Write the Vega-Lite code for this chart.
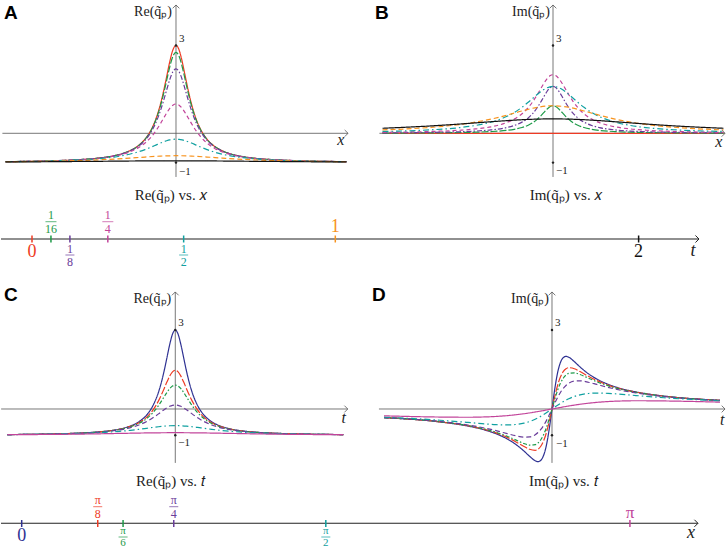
{
  "$schema": "https://vega.github.io/schema/vega-lite/v6.json",
  "padding": 0,
  "spacing": 0,
  "resolve": {"scale": {"color": "independent", "strokeDash": "independent"}},
  "config": {"view": {"stroke": null}, "concat": {"spacing": 0}},
  "datasets": {
    "one": [{"k": 1}],
    "ab": [
      {"s":"0","x":-5.5,"re":-0.967,"im":0},{"s":"0","x":-4,"re":-0.938,"im":0},{"s":"0","x":-3,"re":-0.892,"im":0},{"s":"0","x":-2.5,"re":-0.846,"im":0},
      {"s":"0","x":-2,"re":-0.765,"im":0},{"s":"0","x":-1.5,"re":-0.6,"im":0},{"s":"0","x":-1.25,"re":-0.448,"im":0},{"s":"0","x":-1,"re":-0.2,"im":0},
      {"s":"0","x":-0.8,"re":0.124,"im":0},{"s":"0","x":-0.65,"re":0.487,"im":0},{"s":"0","x":-0.5,"re":1,"im":0},{"s":"0","x":-0.4,"re":1.439,"im":0},
      {"s":"0","x":-0.3,"re":1.941,"im":0},{"s":"0","x":-0.2,"re":2.448,"im":0},{"s":"0","x":-0.1,"re":2.846,"im":0},{"s":"0","x":0,"re":3,"im":0},
      {"s":"0","x":0.1,"re":2.846,"im":0},{"s":"0","x":0.2,"re":2.448,"im":0},{"s":"0","x":0.3,"re":1.941,"im":0},{"s":"0","x":0.4,"re":1.439,"im":0},
      {"s":"0","x":0.5,"re":1,"im":0},{"s":"0","x":0.65,"re":0.487,"im":0},{"s":"0","x":0.8,"re":0.124,"im":0},{"s":"0","x":1,"re":-0.2,"im":0},
      {"s":"0","x":1.25,"re":-0.448,"im":0},{"s":"0","x":1.5,"re":-0.6,"im":0},{"s":"0","x":2,"re":-0.765,"im":0},{"s":"0","x":2.5,"re":-0.846,"im":0},
      {"s":"0","x":3,"re":-0.892,"im":0},{"s":"0","x":4,"re":-0.938,"im":0},{"s":"0","x":5.5,"re":-0.967,"im":0},

      {"s":"1/16","x":-5.5,"re":-0.967,"im":0.008},{"s":"1/16","x":-4,"re":-0.939,"im":0.015},{"s":"1/16","x":-3,"re":-0.892,"im":0.027},{"s":"1/16","x":-2.5,"re":-0.847,"im":0.038},
      {"s":"1/16","x":-2,"re":-0.766,"im":0.059},{"s":"1/16","x":-1.5,"re":-0.602,"im":0.099},{"s":"1/16","x":-1.25,"re":-0.453,"im":0.137},{"s":"1/16","x":-1,"re":-0.21,"im":0.198},
      {"s":"1/16","x":-0.8,"re":0.104,"im":0.276},{"s":"1/16","x":-0.65,"re":0.453,"im":0.363},{"s":"1/16","x":-0.5,"re":0.939,"im":0.485},{"s":"1/16","x":-0.4,"re":1.349,"im":0.587},
      {"s":"1/16","x":-0.3,"re":1.812,"im":0.703},{"s":"1/16","x":-0.2,"re":2.272,"im":0.818},{"s":"1/16","x":-0.1,"re":2.628,"im":0.907},{"s":"1/16","x":0,"re":2.765,"im":0.941},
      {"s":"1/16","x":0.1,"re":2.628,"im":0.907},{"s":"1/16","x":0.2,"re":2.272,"im":0.818},{"s":"1/16","x":0.3,"re":1.812,"im":0.703},{"s":"1/16","x":0.4,"re":1.349,"im":0.587},
      {"s":"1/16","x":0.5,"re":0.939,"im":0.485},{"s":"1/16","x":0.65,"re":0.453,"im":0.363},{"s":"1/16","x":0.8,"re":0.104,"im":0.276},{"s":"1/16","x":1,"re":-0.21,"im":0.198},
      {"s":"1/16","x":1.25,"re":-0.453,"im":0.137},{"s":"1/16","x":1.5,"re":-0.602,"im":0.099},{"s":"1/16","x":2,"re":-0.766,"im":0.059},{"s":"1/16","x":2.5,"re":-0.847,"im":0.038},
      {"s":"1/16","x":3,"re":-0.892,"im":0.027},{"s":"1/16","x":4,"re":-0.939,"im":0.015},{"s":"1/16","x":5.5,"re":-0.967,"im":0.008},

      {"s":"1/8","x":-5.5,"re":-0.967,"im":0.016},{"s":"1/8","x":-4,"re":-0.939,"im":0.031},{"s":"1/8","x":-3,"re":-0.893,"im":0.054},{"s":"1/8","x":-2.5,"re":-0.848,"im":0.076},
      {"s":"1/8","x":-2,"re":-0.768,"im":0.116},{"s":"1/8","x":-1.5,"re":-0.61,"im":0.195},{"s":"1/8","x":-1.25,"re":-0.467,"im":0.267},{"s":"1/8","x":-1,"re":-0.238,"im":0.381},
      {"s":"1/8","x":-0.8,"re":0.05,"im":0.525},{"s":"1/8","x":-0.65,"re":0.361,"im":0.68},{"s":"1/8","x":-0.5,"re":0.778,"im":0.889},{"s":"1/8","x":-0.4,"re":1.116,"im":1.058},
      {"s":"1/8","x":-0.3,"re":1.484,"im":1.242},{"s":"1/8","x":-0.2,"re":1.837,"im":1.418},{"s":"1/8","x":-0.1,"re":2.101,"im":1.55},{"s":"1/8","x":0,"re":2.2,"im":1.6},
      {"s":"1/8","x":0.1,"re":2.101,"im":1.55},{"s":"1/8","x":0.2,"re":1.837,"im":1.418},{"s":"1/8","x":0.3,"re":1.484,"im":1.242},{"s":"1/8","x":0.4,"re":1.116,"im":1.058},
      {"s":"1/8","x":0.5,"re":0.778,"im":0.889},{"s":"1/8","x":0.65,"re":0.361,"im":0.68},{"s":"1/8","x":0.8,"re":0.05,"im":0.525},{"s":"1/8","x":1,"re":-0.238,"im":0.381},
      {"s":"1/8","x":1.25,"re":-0.467,"im":0.267},{"s":"1/8","x":1.5,"re":-0.61,"im":0.195},{"s":"1/8","x":2,"re":-0.768,"im":0.116},{"s":"1/8","x":2.5,"re":-0.848,"im":0.076},
      {"s":"1/8","x":3,"re":-0.893,"im":0.054},{"s":"1/8","x":4,"re":-0.939,"im":0.031},{"s":"1/8","x":5.5,"re":-0.967,"im":0.016},

      {"s":"1/4","x":-5.5,"re":-0.967,"im":0.033},{"s":"1/4","x":-4,"re":-0.939,"im":0.061},{"s":"1/4","x":-3,"re":-0.895,"im":0.105},{"s":"1/4","x":-2.5,"re":-0.852,"im":0.148},
      {"s":"1/4","x":-2,"re":-0.778,"im":0.222},{"s":"1/4","x":-1.5,"re":-0.636,"im":0.364},{"s":"1/4","x":-1.25,"re":-0.515,"im":0.485},{"s":"1/4","x":-1,"re":-0.333,"im":0.667},
      {"s":"1/4","x":-0.8,"re":-0.123,"im":0.877},{"s":"1/4","x":-0.65,"re":0.084,"im":1.084},{"s":"1/4","x":-0.5,"re":0.333,"im":1.333},{"s":"1/4","x":-0.4,"re":0.515,"im":1.515},
      {"s":"1/4","x":-0.3,"re":0.695,"im":1.695},{"s":"1/4","x":-0.2,"re":0.852,"im":1.852},{"s":"1/4","x":-0.1,"re":0.961,"im":1.961},{"s":"1/4","x":0,"re":1,"im":2},
      {"s":"1/4","x":0.1,"re":0.961,"im":1.961},{"s":"1/4","x":0.2,"re":0.852,"im":1.852},{"s":"1/4","x":0.3,"re":0.695,"im":1.695},{"s":"1/4","x":0.4,"re":0.515,"im":1.515},
      {"s":"1/4","x":0.5,"re":0.333,"im":1.333},{"s":"1/4","x":0.65,"re":0.084,"im":1.084},{"s":"1/4","x":0.8,"re":-0.123,"im":0.877},{"s":"1/4","x":1,"re":-0.333,"im":0.667},
      {"s":"1/4","x":1.25,"re":-0.515,"im":0.485},{"s":"1/4","x":1.5,"re":-0.636,"im":0.364},{"s":"1/4","x":2,"re":-0.778,"im":0.222},{"s":"1/4","x":2.5,"re":-0.852,"im":0.148},
      {"s":"1/4","x":3,"re":-0.895,"im":0.105},{"s":"1/4","x":4,"re":-0.939,"im":0.061},{"s":"1/4","x":5.5,"re":-0.967,"im":0.033},

      {"s":"1/2","x":-5.5,"re":-0.968,"im":0.063},{"s":"1/2","x":-4,"re":-0.942,"im":0.116},{"s":"1/2","x":-3,"re":-0.902,"im":0.195},{"s":"1/2","x":-2.5,"re":-0.867,"im":0.267},
      {"s":"1/2","x":-2,"re":-0.81,"im":0.381},{"s":"1/2","x":-1.5,"re":-0.714,"im":0.571},{"s":"1/2","x":-1.25,"re":-0.644,"im":0.711},{"s":"1/2","x":-1,"re":-0.556,"im":0.889},
      {"s":"1/2","x":-0.8,"re":-0.471,"im":1.058},{"s":"1/2","x":-0.65,"re":-0.402,"im":1.196},{"s":"1/2","x":-0.5,"re":-0.333,"im":1.333},{"s":"1/2","x":-0.4,"re":-0.291,"im":1.418},
      {"s":"1/2","x":-0.3,"re":-0.254,"im":1.493},{"s":"1/2","x":-0.2,"re":-0.225,"im":1.55},{"s":"1/2","x":-0.1,"re":-0.206,"im":1.587},{"s":"1/2","x":0,"re":-0.2,"im":1.6},
      {"s":"1/2","x":0.1,"re":-0.206,"im":1.587},{"s":"1/2","x":0.2,"re":-0.225,"im":1.55},{"s":"1/2","x":0.3,"re":-0.254,"im":1.493},{"s":"1/2","x":0.4,"re":-0.291,"im":1.418},
      {"s":"1/2","x":0.5,"re":-0.333,"im":1.333},{"s":"1/2","x":0.65,"re":-0.402,"im":1.196},{"s":"1/2","x":0.8,"re":-0.471,"im":1.058},{"s":"1/2","x":1,"re":-0.556,"im":0.889},
      {"s":"1/2","x":1.25,"re":-0.644,"im":0.711},{"s":"1/2","x":1.5,"re":-0.714,"im":0.571},{"s":"1/2","x":2,"re":-0.81,"im":0.381},{"s":"1/2","x":2.5,"re":-0.867,"im":0.267},
      {"s":"1/2","x":3,"re":-0.902,"im":0.195},{"s":"1/2","x":4,"re":-0.942,"im":0.116},{"s":"1/2","x":5.5,"re":-0.968,"im":0.063},

      {"s":"1","x":-5.5,"re":-0.971,"im":0.116},{"s":"1","x":-4,"re":-0.951,"im":0.198},{"s":"1","x":-3,"re":-0.925,"im":0.302},{"s":"1","x":-2.5,"re":-0.905,"im":0.381},
      {"s":"1","x":-2,"re":-0.879,"im":0.485},{"s":"1","x":-1.5,"re":-0.846,"im":0.615},{"s":"1","x":-1,"re":-0.81,"im":0.762},{"s":"1","x":-0.5,"re":-0.778,"im":0.889},
      {"s":"1","x":0,"re":-0.765,"im":0.941},
      {"s":"1","x":0.5,"re":-0.778,"im":0.889},{"s":"1","x":1,"re":-0.81,"im":0.762},{"s":"1","x":1.5,"re":-0.846,"im":0.615},{"s":"1","x":2,"re":-0.879,"im":0.485},
      {"s":"1","x":2.5,"re":-0.905,"im":0.381},{"s":"1","x":3,"re":-0.925,"im":0.302},{"s":"1","x":4,"re":-0.951,"im":0.198},{"s":"1","x":5.5,"re":-0.971,"im":0.116},

      {"s":"2","x":-5.5,"re":-0.978,"im":0.172},{"s":"2","x":-4,"re":-0.969,"im":0.248},{"s":"2","x":-3,"re":-0.96,"im":0.317},{"s":"2","x":-2.5,"re":-0.956,"im":0.356},
      {"s":"2","x":-2,"re":-0.951,"im":0.395},{"s":"2","x":-1.5,"re":-0.946,"im":0.432},{"s":"2","x":-1,"re":-0.942,"im":0.464},{"s":"2","x":-0.5,"re":-0.939,"im":0.485},
      {"s":"2","x":0,"re":-0.938,"im":0.492},
      {"s":"2","x":0.5,"re":-0.939,"im":0.485},{"s":"2","x":1,"re":-0.942,"im":0.464},{"s":"2","x":1.5,"re":-0.946,"im":0.432},{"s":"2","x":2,"re":-0.951,"im":0.395},
      {"s":"2","x":2.5,"re":-0.956,"im":0.356},{"s":"2","x":3,"re":-0.96,"im":0.317},{"s":"2","x":4,"re":-0.969,"im":0.248},{"s":"2","x":5.5,"re":-0.978,"im":0.172}
    ],
    "cd": [
      {"s":"0","t":-3,"re":-0.972,"im":-0.331},{"s":"0","t":-2,"re":-0.938,"im":-0.492},{"s":"0","t":-1.5,"re":-0.892,"im":-0.649},{"s":"0","t":-1.25,"re":-0.846,"im":-0.769},
      {"s":"0","t":-1,"re":-0.765,"im":-0.941},{"s":"0","t":-0.8,"re":-0.644,"im":-1.139},{"s":"0","t":-0.65,"re":-0.485,"im":-1.34},{"s":"0","t":-0.5,"re":-0.2,"im":-1.6},
      {"s":"0","t":-0.4,"re":0.124,"im":-1.798},{"s":"0","t":-0.3,"re":0.639,"im":-1.967},{"s":"0","t":-0.25,"re":1,"im":-2},{"s":"0","t":-0.2,"re":1.439,"im":-1.951},
      {"s":"0","t":-0.15,"re":1.941,"im":-1.765},{"s":"0","t":-0.1,"re":2.448,"im":-1.379},{"s":"0","t":-0.05,"re":2.846,"im":-0.769},{"s":"0","t":0,"re":3,"im":0},
      {"s":"0","t":0.05,"re":2.846,"im":0.769},{"s":"0","t":0.1,"re":2.448,"im":1.379},{"s":"0","t":0.15,"re":1.941,"im":1.765},{"s":"0","t":0.2,"re":1.439,"im":1.951},
      {"s":"0","t":0.25,"re":1,"im":2},{"s":"0","t":0.3,"re":0.639,"im":1.967},{"s":"0","t":0.4,"re":0.124,"im":1.798},{"s":"0","t":0.5,"re":-0.2,"im":1.6},
      {"s":"0","t":0.65,"re":-0.485,"im":1.34},{"s":"0","t":0.8,"re":-0.644,"im":1.139},{"s":"0","t":1,"re":-0.765,"im":0.941},{"s":"0","t":1.25,"re":-0.846,"im":0.769},
      {"s":"0","t":1.5,"re":-0.892,"im":0.649},{"s":"0","t":2,"re":-0.938,"im":0.492},{"s":"0","t":3,"re":-0.972,"im":0.331},

      {"s":"π/8","t":-3,"re":-0.973,"im":-0.33},{"s":"π/8","t":-2,"re":-0.939,"im":-0.488},{"s":"π/8","t":-1.5,"re":-0.894,"im":-0.638},{"s":"π/8","t":-1.25,"re":-0.85,"im":-0.751},
      {"s":"π/8","t":-1,"re":-0.773,"im":-0.908},{"s":"π/8","t":-0.8,"re":-0.663,"im":-1.08},{"s":"π/8","t":-0.65,"re":-0.522,"im":-1.242},{"s":"π/8","t":-0.5,"re":-0.288,"im":-1.424},
      {"s":"π/8","t":-0.4,"re":-0.042,"im":-1.532},{"s":"π/8","t":-0.3,"re":0.309,"im":-1.57},{"s":"π/8","t":-0.25,"re":0.529,"im":-1.529},{"s":"π/8","t":-0.2,"re":0.772,"im":-1.418},
      {"s":"π/8","t":-0.15,"re":1.023,"im":-1.214},{"s":"π/8","t":-0.1,"re":1.251,"im":-0.9},{"s":"π/8","t":-0.05,"re":1.414,"im":-0.483},{"s":"π/8","t":0,"re":1.474,"im":0},
      {"s":"π/8","t":0.05,"re":1.414,"im":0.483},{"s":"π/8","t":0.1,"re":1.251,"im":0.9},{"s":"π/8","t":0.15,"re":1.023,"im":1.214},{"s":"π/8","t":0.2,"re":0.772,"im":1.418},
      {"s":"π/8","t":0.25,"re":0.529,"im":1.529},{"s":"π/8","t":0.3,"re":0.309,"im":1.57},{"s":"π/8","t":0.4,"re":-0.042,"im":1.532},{"s":"π/8","t":0.5,"re":-0.288,"im":1.424},
      {"s":"π/8","t":0.65,"re":-0.522,"im":1.242},{"s":"π/8","t":0.8,"re":-0.663,"im":1.08},{"s":"π/8","t":1,"re":-0.773,"im":0.908},{"s":"π/8","t":1.25,"re":-0.85,"im":0.751},
      {"s":"π/8","t":1.5,"re":-0.894,"im":0.638},{"s":"π/8","t":2,"re":-0.939,"im":0.488},{"s":"π/8","t":3,"re":-0.973,"im":0.33},

      {"s":"π/6","t":-3,"re":-0.973,"im":-0.329},{"s":"π/6","t":-2,"re":-0.939,"im":-0.484},{"s":"π/6","t":-1.5,"re":-0.895,"im":-0.63},{"s":"π/6","t":-1.25,"re":-0.852,"im":-0.738},
      {"s":"π/6","t":-1,"re":-0.779,"im":-0.884},{"s":"π/6","t":-0.8,"re":-0.676,"im":-1.037},{"s":"π/6","t":-0.65,"re":-0.548,"im":-1.174},{"s":"π/6","t":-0.5,"re":-0.344,"im":-1.312},
      {"s":"π/6","t":-0.4,"re":-0.141,"im":-1.374},{"s":"π/6","t":-0.3,"re":0.131,"im":-1.357},{"s":"π/6","t":-0.25,"re":0.292,"im":-1.292},{"s":"π/6","t":-0.2,"re":0.462,"im":-1.169},
      {"s":"π/6","t":-0.15,"re":0.628,"im":-0.977},{"s":"π/6","t":-0.1,"re":0.773,"im":-0.709},{"s":"π/6","t":-0.05,"re":0.872,"im":-0.374},{"s":"π/6","t":0,"re":0.908,"im":0},
      {"s":"π/6","t":0.05,"re":0.872,"im":0.374},{"s":"π/6","t":0.1,"re":0.773,"im":0.709},{"s":"π/6","t":0.15,"re":0.628,"im":0.977},{"s":"π/6","t":0.2,"re":0.462,"im":1.169},
      {"s":"π/6","t":0.25,"re":0.292,"im":1.292},{"s":"π/6","t":0.3,"re":0.131,"im":1.357},{"s":"π/6","t":0.4,"re":-0.141,"im":1.374},{"s":"π/6","t":0.5,"re":-0.344,"im":1.312},
      {"s":"π/6","t":0.65,"re":-0.548,"im":1.174},{"s":"π/6","t":0.8,"re":-0.676,"im":1.037},{"s":"π/6","t":1,"re":-0.779,"im":0.884},{"s":"π/6","t":1.25,"re":-0.852,"im":0.738},
      {"s":"π/6","t":1.5,"re":-0.895,"im":0.63},{"s":"π/6","t":2,"re":-0.939,"im":0.484},{"s":"π/6","t":3,"re":-0.973,"im":0.329},

      {"s":"π/4","t":-3,"re":-0.973,"im":-0.325},{"s":"π/4","t":-2,"re":-0.941,"im":-0.474},{"s":"π/4","t":-1.5,"re":-0.899,"im":-0.608},{"s":"π/4","t":-1.25,"re":-0.859,"im":-0.703},
      {"s":"π/4","t":-1,"re":-0.795,"im":-0.822},{"s":"π/4","t":-0.8,"re":-0.708,"im":-0.934},{"s":"π/4","t":-0.65,"re":-0.609,"im":-1.017},{"s":"π/4","t":-0.5,"re":-0.464,"im":-1.071},
      {"s":"π/4","t":-0.4,"re":-0.336,"im":-1.062},{"s":"π/4","t":-0.3,"re":-0.185,"im":-0.978},{"s":"π/4","t":-0.25,"re":-0.105,"im":-0.895},{"s":"π/4","t":-0.2,"re":-0.026,"im":-0.779},
      {"s":"π/4","t":-0.15,"re":0.045,"im":-0.627},{"s":"π/4","t":-0.1,"re":0.103,"im":-0.441},{"s":"π/4","t":-0.05,"re":0.14,"im":-0.228},{"s":"π/4","t":0,"re":0.154,"im":0},
      {"s":"π/4","t":0.05,"re":0.14,"im":0.228},{"s":"π/4","t":0.1,"re":0.103,"im":0.441},{"s":"π/4","t":0.15,"re":0.045,"im":0.627},{"s":"π/4","t":0.2,"re":-0.026,"im":0.779},
      {"s":"π/4","t":0.25,"re":-0.105,"im":0.895},{"s":"π/4","t":0.3,"re":-0.185,"im":0.978},{"s":"π/4","t":0.4,"re":-0.336,"im":1.062},{"s":"π/4","t":0.5,"re":-0.464,"im":1.071},
      {"s":"π/4","t":0.65,"re":-0.609,"im":1.017},{"s":"π/4","t":0.8,"re":-0.708,"im":0.934},{"s":"π/4","t":1,"re":-0.795,"im":0.822},{"s":"π/4","t":1.25,"re":-0.859,"im":0.703},
      {"s":"π/4","t":1.5,"re":-0.899,"im":0.608},{"s":"π/4","t":2,"re":-0.941,"im":0.474},{"s":"π/4","t":3,"re":-0.973,"im":0.325},

      {"s":"π/2","t":-3,"re":-0.974,"im":-0.31},{"s":"π/2","t":-2,"re":-0.947,"im":-0.427},{"s":"π/2","t":-1.5,"re":-0.915,"im":-0.512},{"s":"π/2","t":-1.25,"re":-0.888,"im":-0.558},
      {"s":"π/2","t":-1,"re":-0.851,"im":-0.596},{"s":"π/2","t":-0.8,"re":-0.811,"im":-0.606},{"s":"π/2","t":-0.65,"re":-0.773,"im":-0.59},{"s":"π/2","t":-0.5,"re":-0.731,"im":-0.538},
      {"s":"π/2","t":-0.4,"re":-0.702,"im":-0.476},{"s":"π/2","t":-0.3,"re":-0.675,"im":-0.39},{"s":"π/2","t":-0.2,"re":-0.652,"im":-0.278},{"s":"π/2","t":-0.1,"re":-0.637,"im":-0.145},
      {"s":"π/2","t":0,"re":-0.632,"im":0},
      {"s":"π/2","t":0.1,"re":-0.637,"im":0.145},{"s":"π/2","t":0.2,"re":-0.652,"im":0.278},{"s":"π/2","t":0.3,"re":-0.675,"im":0.39},{"s":"π/2","t":0.4,"re":-0.702,"im":0.476},
      {"s":"π/2","t":0.5,"re":-0.731,"im":0.538},{"s":"π/2","t":0.65,"re":-0.773,"im":0.59},{"s":"π/2","t":0.8,"re":-0.811,"im":0.606},{"s":"π/2","t":1,"re":-0.851,"im":0.596},
      {"s":"π/2","t":1.25,"re":-0.888,"im":0.558},{"s":"π/2","t":1.5,"re":-0.915,"im":0.512},{"s":"π/2","t":2,"re":-0.947,"im":0.427},{"s":"π/2","t":3,"re":-0.974,"im":0.31},

      {"s":"π","t":-3,"re":-0.978,"im":-0.26},{"s":"π","t":-2,"re":-0.962,"im":-0.306},{"s":"π","t":-1.5,"re":-0.948,"im":-0.314},{"s":"π","t":-1.25,"re":-0.939,"im":-0.305},
      {"s":"π","t":-1,"re":-0.929,"im":-0.283},{"s":"π","t":-0.8,"re":-0.921,"im":-0.252},{"s":"π","t":-0.5,"re":-0.91,"im":-0.18},{"s":"π","t":-0.25,"re":-0.904,"im":-0.096},
      {"s":"π","t":0,"re":-0.901,"im":0},
      {"s":"π","t":0.25,"re":-0.904,"im":0.096},{"s":"π","t":0.5,"re":-0.91,"im":0.18},{"s":"π","t":0.8,"re":-0.921,"im":0.252},{"s":"π","t":1,"re":-0.929,"im":0.283},
      {"s":"π","t":1.25,"re":-0.939,"im":0.305},{"s":"π","t":1.5,"re":-0.948,"im":0.314},{"s":"π","t":2,"re":-0.962,"im":0.306},{"s":"π","t":3,"re":-0.978,"im":0.26}
    ],
    "tl1": [
      {"v":0,"lab":"0","pos":"down","s":"0"},
      {"v":0.0625,"num":"1","den":"16","pos":"up","s":"1/16"},
      {"v":0.125,"num":"1","den":"8","pos":"down","s":"1/8"},
      {"v":0.25,"num":"1","den":"4","pos":"up","s":"1/4"},
      {"v":0.5,"num":"1","den":"2","pos":"down","s":"1/2"},
      {"v":1,"lab":"1","pos":"up","s":"1"},
      {"v":2,"lab":"2","pos":"down","s":"2"}
    ],
    "tl2": [
      {"v":0,"lab":"0","pos":"down","s":"0"},
      {"v":0.3927,"num":"π","den":"8","pos":"up","s":"π/8"},
      {"v":0.5236,"num":"π","den":"6","pos":"down","s":"π/6"},
      {"v":0.7854,"num":"π","den":"4","pos":"up","s":"π/4"},
      {"v":1.5708,"num":"π","den":"2","pos":"down","s":"π/2"},
      {"v":3.1416,"lab":"π","pos":"up","s":"π"}
    ]
  },
  "vconcat": [
    {
      "hconcat": [
        {
          "width": 363, "height": 205,
          "layer": [
            {"data": {"name": "one"}, "mark": {"type": "rule", "color": "#555", "strokeWidth": 0.8},
             "encoding": {"x": {"datum": -5.6, "scale": {"domain": [-5.645, 6.065], "nice": false, "zero": false}, "axis": null}, "x2": {"datum": 5.55},
                          "y": {"datum": 0, "scale": {"domain": [-2.447, 4.55], "nice": false, "zero": false}, "axis": null}}},
            {"data": {"name": "one"}, "mark": {"type": "rule", "color": "#555", "strokeWidth": 0.8},
             "encoding": {"x": {"datum": 0}, "y": {"datum": -1.49}, "y2": {"datum": 4.38}}},
            {"data": {"name": "ab"}, "mark": {"type": "line", "interpolate": "monotone", "strokeWidth": 1.2},
             "encoding": {
               "x": {"field": "x", "type": "quantitative"},
               "y": {"field": "re", "type": "quantitative"},
               "color": {"field": "s", "type": "nominal", "legend": null,
                         "scale": {"domain": ["2","1","1/2","1/4","1/8","1/16","0"], "range": ["#111111","#f7931e","#10a0a0","#c2449a","#6a3d9a","#1d9a48","#ee3b24"]}},
               "strokeDash": {"field": "s", "type": "nominal", "legend": null,
                         "scale": {"domain": ["2","1","1/2","1/4","1/8","1/16","0"], "range": [[1,0],[5,3],[6,3,1.5,3],[4,3],[5,2,1.5,2],[7,2],[1,0]]}}
             }},
            {"data": {"name": "one"}, "mark": {"type": "point", "shape": "M -1 -1 L 0 0 L -1 1", "filled": false, "color": "#555", "size": 45, "strokeWidth": 0.8, "opacity": 1},
             "encoding": {"x": {"datum": 5.55}, "y": {"datum": 0}}},
            {"data": {"name": "one"}, "mark": {"type": "point", "shape": "M -1 1 L 0 0 L 1 1", "filled": false, "color": "#555", "size": 45, "strokeWidth": 0.8, "opacity": 1},
             "encoding": {"x": {"datum": 0}, "y": {"datum": 4.38}}},
            {"data": {"name": "one"}, "mark": {"type": "point", "filled": true, "color": "#222", "size": 6, "opacity": 1},
             "encoding": {"x": {"datum": 0}, "y": {"datum": 3}}},
            {"data": {"name": "one"}, "mark": {"type": "point", "filled": true, "color": "#222", "size": 6, "opacity": 1},
             "encoding": {"x": {"datum": 0}, "y": {"datum": -1}}},
            {"data": {"name": "one"}, "mark": {"type": "text", "text": "3", "align": "left", "baseline": "middle", "dx": 3, "dy": -6, "font": "Liberation Serif", "fontSize": 11, "color": "#222"},
             "encoding": {"x": {"datum": 0}, "y": {"datum": 3}}},
            {"data": {"name": "one"}, "mark": {"type": "text", "text": "−1", "align": "left", "baseline": "middle", "dx": 3, "dy": 9, "font": "Liberation Serif", "fontSize": 11, "color": "#222"},
             "encoding": {"x": {"datum": 0}, "y": {"datum": -1}}},
            {"data": {"name": "one"}, "mark": {"type": "text", "text": "x", "align": "center", "baseline": "middle", "font": "Liberation Serif", "fontStyle": "italic", "fontSize": 16, "color": "#222"},
             "encoding": {"x": {"datum": 5.32}, "y": {"datum": -0.23}}},
            {"data": {"name": "one"}, "mark": {"type": "text", "text": "Re(q̃ₚ)", "align": "right", "baseline": "middle", "dx": -4, "font": "Liberation Serif", "fontSize": 14, "color": "#222"},
             "encoding": {"x": {"datum": 0}, "y": {"datum": 4.14}}},
            {"data": {"name": "one"}, "mark": {"type": "text", "text": "A", "align": "left", "baseline": "middle", "font": "Liberation Sans", "fontWeight": "bold", "fontSize": 19, "color": "#000"},
             "encoding": {"x": {"datum": -5.55}, "y": {"datum": 4.09}}},
            {"data": {"name": "one"}, "mark": {"type": "text", "text": "Re(q̃ₚ) vs. 𝑥", "align": "center", "baseline": "middle", "font": "Liberation Serif", "fontSize": 15, "color": "#222"},
             "encoding": {"x": {"datum": -0.16}, "y": {"datum": -2.12}}}
          ]
        },
        {
          "width": 363, "height": 205,
          "layer": [
            {"data": {"name": "one"}, "mark": {"type": "rule", "color": "#555", "strokeWidth": 0.8},
             "encoding": {"x": {"datum": -5.6, "scale": {"domain": [-6.097, 5.613], "nice": false, "zero": false}, "axis": null}, "x2": {"datum": 5.55},
                          "y": {"datum": 0, "scale": {"domain": [-2.447, 4.55], "nice": false, "zero": false}, "axis": null}}},
            {"data": {"name": "one"}, "mark": {"type": "rule", "color": "#555", "strokeWidth": 0.8},
             "encoding": {"x": {"datum": 0}, "y": {"datum": -1.49}, "y2": {"datum": 4.38}}},
            {"data": {"name": "ab"}, "mark": {"type": "line", "interpolate": "monotone", "strokeWidth": 1.2},
             "encoding": {
               "x": {"field": "x", "type": "quantitative"},
               "y": {"field": "im", "type": "quantitative"},
               "color": {"field": "s", "type": "nominal", "legend": null,
                         "scale": {"domain": ["2","1","1/2","1/4","1/8","1/16","0"], "range": ["#111111","#f7931e","#10a0a0","#c2449a","#6a3d9a","#1d9a48","#ee3b24"]}},
               "strokeDash": {"field": "s", "type": "nominal", "legend": null,
                         "scale": {"domain": ["2","1","1/2","1/4","1/8","1/16","0"], "range": [[1,0],[5,3],[6,3,1.5,3],[4,3],[5,2,1.5,2],[7,2],[1,0]]}}
             }},
            {"data": {"name": "one"}, "mark": {"type": "point", "shape": "M -1 -1 L 0 0 L -1 1", "filled": false, "color": "#555", "size": 45, "strokeWidth": 0.8, "opacity": 1},
             "encoding": {"x": {"datum": 5.55}, "y": {"datum": 0}}},
            {"data": {"name": "one"}, "mark": {"type": "point", "shape": "M -1 1 L 0 0 L 1 1", "filled": false, "color": "#555", "size": 45, "strokeWidth": 0.8, "opacity": 1},
             "encoding": {"x": {"datum": 0}, "y": {"datum": 4.38}}},
            {"data": {"name": "one"}, "mark": {"type": "point", "filled": true, "color": "#222", "size": 6, "opacity": 1},
             "encoding": {"x": {"datum": 0}, "y": {"datum": 3}}},
            {"data": {"name": "one"}, "mark": {"type": "point", "filled": true, "color": "#222", "size": 6, "opacity": 1},
             "encoding": {"x": {"datum": 0}, "y": {"datum": -1}}},
            {"data": {"name": "one"}, "mark": {"type": "text", "text": "3", "align": "left", "baseline": "middle", "dx": 3, "dy": -6, "font": "Liberation Serif", "fontSize": 11, "color": "#222"},
             "encoding": {"x": {"datum": 0}, "y": {"datum": 3}}},
            {"data": {"name": "one"}, "mark": {"type": "text", "text": "−1", "align": "left", "baseline": "middle", "dx": 3, "dy": 8, "font": "Liberation Serif", "fontSize": 11, "color": "#222"},
             "encoding": {"x": {"datum": 0}, "y": {"datum": -1}}},
            {"data": {"name": "one"}, "mark": {"type": "text", "text": "x", "align": "center", "baseline": "middle", "font": "Liberation Serif", "fontStyle": "italic", "fontSize": 16, "color": "#222"},
             "encoding": {"x": {"datum": 5.35}, "y": {"datum": -0.3}}},
            {"data": {"name": "one"}, "mark": {"type": "text", "text": "Im(q̃ₚ)", "align": "right", "baseline": "middle", "dx": -3, "font": "Liberation Serif", "fontSize": 14, "color": "#222"},
             "encoding": {"x": {"datum": 0}, "y": {"datum": 4.14}}},
            {"data": {"name": "one"}, "mark": {"type": "text", "text": "B", "align": "left", "baseline": "middle", "font": "Liberation Sans", "fontWeight": "bold", "fontSize": 19, "color": "#000"},
             "encoding": {"x": {"datum": -5.742}, "y": {"datum": 4.09}}},
            {"data": {"name": "one"}, "mark": {"type": "text", "text": "Im(q̃ₚ) vs. 𝑥", "align": "center", "baseline": "middle", "font": "Liberation Serif", "fontSize": 15, "color": "#222"},
             "encoding": {"x": {"datum": 0.42}, "y": {"datum": -2.12}}}
          ]
        }
      ],
      "spacing": 0,
      "bounds": "flush"
    },
    {
      "width": 726, "height": 65,
      "layer": [
        {"data": {"name": "one"}, "mark": {"type": "rule", "color": "#222", "strokeWidth": 1.1},
         "encoding": {"x": {"datum": -0.1022, "scale": {"domain": [-0.1022, 2.2914], "nice": false, "zero": false}, "axis": null}, "x2": {"datum": 2.199},
                      "y": {"datum": 34, "scale": {"domain": [0, 65], "reverse": true, "nice": false, "zero": false}, "axis": null}}},
        {"data": {"name": "one"}, "mark": {"type": "point", "shape": "M -1 -1 L 0 0 L -1 1", "filled": false, "color": "#222", "size": 50, "strokeWidth": 1, "opacity": 1},
         "encoding": {"x": {"datum": 2.199}, "y": {"datum": 34}}},
        {"data": {"name": "one"}, "mark": {"type": "text", "text": "t", "align": "center", "baseline": "middle", "font": "Liberation Serif", "fontStyle": "italic", "fontSize": 18, "color": "#222"},
         "encoding": {"x": {"datum": 2.179}, "y": {"datum": 46}}},
        {"data": {"name": "tl1"}, "mark": {"type": "rule", "strokeWidth": 1.5},
         "encoding": {"x": {"field": "v", "type": "quantitative"}, "y": {"datum": 30.5}, "y2": {"datum": 37.5},
                      "color": {"field": "s", "type": "nominal", "legend": null,
                                "scale": {"domain": ["2","1","1/2","1/4","1/8","1/16","0"], "range": ["#111111","#f7931e","#10a0a0","#c2449a","#6a3d9a","#1d9a48","#ee3b24"]}}}},
        {"data": {"name": "tl1"}, "transform": [{"filter": "datum.pos == 'up' && datum.den"}],
         "mark": {"type": "text", "baseline": "middle", "font": "Liberation Serif", "fontSize": 12},
         "encoding": {"x": {"field": "v", "type": "quantitative"}, "y": {"datum": 9.5}, "text": {"field": "num"}, "color": {"field": "s", "type": "nominal", "legend": null}}},
        {"data": {"name": "tl1"}, "transform": [{"filter": "datum.pos == 'up' && datum.den"}],
         "mark": {"type": "tick", "orient": "horizontal", "size": 11, "thickness": 1},
         "encoding": {"x": {"field": "v", "type": "quantitative"}, "y": {"datum": 16.7}, "color": {"field": "s", "type": "nominal", "legend": null}}},
        {"data": {"name": "tl1"}, "transform": [{"filter": "datum.pos == 'up' && datum.den"}],
         "mark": {"type": "text", "baseline": "middle", "font": "Liberation Serif", "fontSize": 12},
         "encoding": {"x": {"field": "v", "type": "quantitative"}, "y": {"datum": 24}, "text": {"field": "den"}, "color": {"field": "s", "type": "nominal", "legend": null}}},
        {"data": {"name": "tl1"}, "transform": [{"filter": "datum.pos == 'down' && datum.den"}],
         "mark": {"type": "text", "baseline": "middle", "font": "Liberation Serif", "fontSize": 12},
         "encoding": {"x": {"field": "v", "type": "quantitative"}, "y": {"datum": 43.5}, "text": {"field": "num"}, "color": {"field": "s", "type": "nominal", "legend": null}}},
        {"data": {"name": "tl1"}, "transform": [{"filter": "datum.pos == 'down' && datum.den"}],
         "mark": {"type": "tick", "orient": "horizontal", "size": 9, "thickness": 1},
         "encoding": {"x": {"field": "v", "type": "quantitative"}, "y": {"datum": 50}, "color": {"field": "s", "type": "nominal", "legend": null}}},
        {"data": {"name": "tl1"}, "transform": [{"filter": "datum.pos == 'down' && datum.den"}],
         "mark": {"type": "text", "baseline": "middle", "font": "Liberation Serif", "fontSize": 12},
         "encoding": {"x": {"field": "v", "type": "quantitative"}, "y": {"datum": 57}, "text": {"field": "den"}, "color": {"field": "s", "type": "nominal", "legend": null}}},
        {"data": {"name": "tl1"}, "transform": [{"filter": "datum.pos == 'up' && datum.lab"}],
         "mark": {"type": "text", "baseline": "middle", "font": "Liberation Serif", "fontSize": 18},
         "encoding": {"x": {"field": "v", "type": "quantitative"}, "y": {"datum": 21.5}, "text": {"field": "lab"}, "color": {"field": "s", "type": "nominal", "legend": null}}},
        {"data": {"name": "tl1"}, "transform": [{"filter": "datum.pos == 'down' && datum.lab"}],
         "mark": {"type": "text", "baseline": "middle", "font": "Liberation Serif", "fontSize": 18},
         "encoding": {"x": {"field": "v", "type": "quantitative"}, "y": {"datum": 47}, "text": {"field": "lab"}, "color": {"field": "s", "type": "nominal", "legend": null}}}
      ]
    },
    {
      "hconcat": [
        {
          "width": 363, "height": 220,
          "layer": [
            {"data": {"name": "one"}, "mark": {"type": "rule", "color": "#555", "strokeWidth": 0.8},
             "encoding": {"x": {"datum": -3.11, "scale": {"domain": [-3.1125, 3.37], "nice": false, "zero": false}, "axis": null}, "x2": {"datum": 3.08},
                          "y": {"datum": 0, "scale": {"domain": [-3.08, 5.285], "nice": false, "zero": false}, "axis": null}}},
            {"data": {"name": "one"}, "mark": {"type": "rule", "color": "#555", "strokeWidth": 0.8},
             "encoding": {"x": {"datum": 0}, "y": {"datum": -2.05}, "y2": {"datum": 4.45}}},
            {"data": {"name": "cd"}, "mark": {"type": "line", "interpolate": "monotone", "strokeWidth": 1.2},
             "encoding": {
               "x": {"field": "t", "type": "quantitative"},
               "y": {"field": "re", "type": "quantitative"},
               "color": {"field": "s", "type": "nominal", "legend": null,
                         "scale": {"domain": ["π","π/2","π/4","π/6","π/8","0"], "range": ["#c2449a","#10a0a0","#6a3d9a","#1d9a48","#ee3b24","#2e3192"]}},
               "strokeDash": {"field": "s", "type": "nominal", "legend": null,
                         "scale": {"domain": ["π","π/2","π/4","π/6","π/8","0"], "range": [[1,0],[6,3,1.5,3],[5,3],[4,2,1.5,2],[8,2],[1,0]]}}
             }},
            {"data": {"name": "one"}, "mark": {"type": "point", "shape": "M -1 -1 L 0 0 L -1 1", "filled": false, "color": "#555", "size": 45, "strokeWidth": 0.8, "opacity": 1},
             "encoding": {"x": {"datum": 3.08}, "y": {"datum": 0}}},
            {"data": {"name": "one"}, "mark": {"type": "point", "shape": "M -1 1 L 0 0 L 1 1", "filled": false, "color": "#555", "size": 45, "strokeWidth": 0.8, "opacity": 1},
             "encoding": {"x": {"datum": 0}, "y": {"datum": 4.45}}},
            {"data": {"name": "one"}, "mark": {"type": "point", "filled": true, "color": "#222", "size": 6, "opacity": 1},
             "encoding": {"x": {"datum": 0}, "y": {"datum": 3}}},
            {"data": {"name": "one"}, "mark": {"type": "point", "filled": true, "color": "#222", "size": 6, "opacity": 1},
             "encoding": {"x": {"datum": 0}, "y": {"datum": -1}}},
            {"data": {"name": "one"}, "mark": {"type": "text", "text": "3", "align": "left", "baseline": "middle", "dx": 3, "dy": -7, "font": "Liberation Serif", "fontSize": 11, "color": "#222"},
             "encoding": {"x": {"datum": 0}, "y": {"datum": 3}}},
            {"data": {"name": "one"}, "mark": {"type": "text", "text": "−1", "align": "left", "baseline": "middle", "dx": 3, "dy": 8, "font": "Liberation Serif", "fontSize": 11, "color": "#222"},
             "encoding": {"x": {"datum": 0}, "y": {"datum": -1}}},
            {"data": {"name": "one"}, "mark": {"type": "text", "text": "t", "align": "center", "baseline": "middle", "font": "Liberation Serif", "fontStyle": "italic", "fontSize": 16, "color": "#222"},
             "encoding": {"x": {"datum": 3.01}, "y": {"datum": -0.34}}},
            {"data": {"name": "one"}, "mark": {"type": "text", "text": "Re(q̃ₚ)", "align": "right", "baseline": "middle", "dx": -4, "font": "Liberation Serif", "fontSize": 14, "color": "#222"},
             "encoding": {"x": {"datum": 0}, "y": {"datum": 4.18}}},
            {"data": {"name": "one"}, "mark": {"type": "text", "text": "C", "align": "left", "baseline": "middle", "font": "Liberation Sans", "fontWeight": "bold", "fontSize": 19, "color": "#000"},
             "encoding": {"x": {"datum": -3.059}, "y": {"datum": 4.33}}},
            {"data": {"name": "one"}, "mark": {"type": "text", "text": "Re(q̃ₚ) vs. 𝑡", "align": "center", "baseline": "middle", "font": "Liberation Serif", "fontSize": 15, "color": "#222"},
             "encoding": {"x": {"datum": -0.077}, "y": {"datum": -2.74}}}
          ]
        },
        {
          "width": 363, "height": 220,
          "layer": [
            {"data": {"name": "one"}, "mark": {"type": "rule", "color": "#555", "strokeWidth": 0.8},
             "encoding": {"x": {"datum": -3.09, "scale": {"domain": [-3.357, 3.125], "nice": false, "zero": false}, "axis": null}, "x2": {"datum": 3.09},
                          "y": {"datum": 0, "scale": {"domain": [-3.08, 5.285], "nice": false, "zero": false}, "axis": null}}},
            {"data": {"name": "one"}, "mark": {"type": "rule", "color": "#555", "strokeWidth": 0.8},
             "encoding": {"x": {"datum": 0}, "y": {"datum": -2.05}, "y2": {"datum": 4.45}}},
            {"data": {"name": "cd"}, "mark": {"type": "line", "interpolate": "monotone", "strokeWidth": 1.2},
             "encoding": {
               "x": {"field": "t", "type": "quantitative"},
               "y": {"field": "im", "type": "quantitative"},
               "color": {"field": "s", "type": "nominal", "legend": null,
                         "scale": {"domain": ["π","π/2","π/4","π/6","π/8","0"], "range": ["#c2449a","#10a0a0","#6a3d9a","#1d9a48","#ee3b24","#2e3192"]}},
               "strokeDash": {"field": "s", "type": "nominal", "legend": null,
                         "scale": {"domain": ["π","π/2","π/4","π/6","π/8","0"], "range": [[1,0],[6,3,1.5,3],[5,3],[4,2,1.5,2],[8,2],[1,0]]}}
             }},
            {"data": {"name": "one"}, "mark": {"type": "point", "shape": "M -1 -1 L 0 0 L -1 1", "filled": false, "color": "#555", "size": 45, "strokeWidth": 0.8, "opacity": 1},
             "encoding": {"x": {"datum": 3.09}, "y": {"datum": 0}}},
            {"data": {"name": "one"}, "mark": {"type": "point", "shape": "M -1 1 L 0 0 L 1 1", "filled": false, "color": "#555", "size": 45, "strokeWidth": 0.8, "opacity": 1},
             "encoding": {"x": {"datum": 0}, "y": {"datum": 4.45}}},
            {"data": {"name": "one"}, "mark": {"type": "point", "filled": true, "color": "#222", "size": 6, "opacity": 1},
             "encoding": {"x": {"datum": 0}, "y": {"datum": 3}}},
            {"data": {"name": "one"}, "mark": {"type": "point", "filled": true, "color": "#222", "size": 6, "opacity": 1},
             "encoding": {"x": {"datum": 0}, "y": {"datum": -1}}},
            {"data": {"name": "one"}, "mark": {"type": "text", "text": "3", "align": "left", "baseline": "middle", "dx": 3, "dy": -7, "font": "Liberation Serif", "fontSize": 11, "color": "#222"},
             "encoding": {"x": {"datum": 0}, "y": {"datum": 3}}},
            {"data": {"name": "one"}, "mark": {"type": "text", "text": "−1", "align": "left", "baseline": "middle", "dx": 4, "dy": 9, "font": "Liberation Serif", "fontSize": 11, "color": "#222"},
             "encoding": {"x": {"datum": 0}, "y": {"datum": -1}}},
            {"data": {"name": "one"}, "mark": {"type": "text", "text": "t", "align": "center", "baseline": "middle", "font": "Liberation Serif", "fontStyle": "italic", "fontSize": 16, "color": "#222"},
             "encoding": {"x": {"datum": 3.04}, "y": {"datum": -0.42}}},
            {"data": {"name": "one"}, "mark": {"type": "text", "text": "Im(q̃ₚ)", "align": "right", "baseline": "middle", "dx": -3, "font": "Liberation Serif", "fontSize": 14, "color": "#222"},
             "encoding": {"x": {"datum": 0}, "y": {"datum": 4.18}}},
            {"data": {"name": "one"}, "mark": {"type": "text", "text": "D", "align": "left", "baseline": "middle", "font": "Liberation Sans", "fontWeight": "bold", "fontSize": 19, "color": "#000"},
             "encoding": {"x": {"datum": -3.214}, "y": {"datum": 4.33}}},
            {"data": {"name": "one"}, "mark": {"type": "text", "text": "Im(q̃ₚ) vs. 𝑡", "align": "center", "baseline": "middle", "font": "Liberation Serif", "fontSize": 15, "color": "#222"},
             "encoding": {"x": {"datum": 0.21}, "y": {"datum": -2.74}}}
          ]
        }
      ],
      "spacing": 0,
      "bounds": "flush"
    },
    {
      "width": 726, "height": 60,
      "layer": [
        {"data": {"name": "one"}, "mark": {"type": "rule", "color": "#222", "strokeWidth": 1.1},
         "encoding": {"x": {"datum": -0.1069, "scale": {"domain": [-0.1069, 3.643], "nice": false, "zero": false}, "axis": null}, "x2": {"datum": 3.493},
                      "y": {"datum": 33.3, "scale": {"domain": [0, 60], "reverse": true, "nice": false, "zero": false}, "axis": null}}},
        {"data": {"name": "one"}, "mark": {"type": "point", "shape": "M -1 -1 L 0 0 L -1 1", "filled": false, "color": "#222", "size": 50, "strokeWidth": 1, "opacity": 1},
         "encoding": {"x": {"datum": 3.493}, "y": {"datum": 33.3}}},
        {"data": {"name": "one"}, "mark": {"type": "text", "text": "x", "align": "center", "baseline": "middle", "font": "Liberation Serif", "fontStyle": "italic", "fontSize": 18, "color": "#222"},
         "encoding": {"x": {"datum": 3.457}, "y": {"datum": 43}}},
        {"data": {"name": "tl2"}, "mark": {"type": "rule", "strokeWidth": 1.5},
         "encoding": {"x": {"field": "v", "type": "quantitative"}, "y": {"datum": 30}, "y2": {"datum": 37},
                      "color": {"field": "s", "type": "nominal", "legend": null,
                                "scale": {"domain": ["π","π/2","π/4","π/6","π/8","0"], "range": ["#c2449a","#10a0a0","#6a3d9a","#1d9a48","#ee3b24","#2e3192"]}}}},
        {"data": {"name": "tl2"}, "transform": [{"filter": "datum.pos == 'up' && datum.den"}],
         "mark": {"type": "text", "baseline": "middle", "font": "Liberation Serif", "fontSize": 12},
         "encoding": {"x": {"field": "v", "type": "quantitative"}, "y": {"datum": 10}, "text": {"field": "num"}, "color": {"field": "s", "type": "nominal", "legend": null}}},
        {"data": {"name": "tl2"}, "transform": [{"filter": "datum.pos == 'up' && datum.den"}],
         "mark": {"type": "tick", "orient": "horizontal", "size": 9, "thickness": 1},
         "encoding": {"x": {"field": "v", "type": "quantitative"}, "y": {"datum": 16.7}, "color": {"field": "s", "type": "nominal", "legend": null}}},
        {"data": {"name": "tl2"}, "transform": [{"filter": "datum.pos == 'up' && datum.den"}],
         "mark": {"type": "text", "baseline": "middle", "font": "Liberation Serif", "fontSize": 12},
         "encoding": {"x": {"field": "v", "type": "quantitative"}, "y": {"datum": 23.5}, "text": {"field": "den"}, "color": {"field": "s", "type": "nominal", "legend": null}}},
        {"data": {"name": "tl2"}, "transform": [{"filter": "datum.pos == 'down' && datum.den"}],
         "mark": {"type": "text", "baseline": "middle", "font": "Liberation Serif", "fontSize": 11},
         "encoding": {"x": {"field": "v", "type": "quantitative"}, "y": {"datum": 41}, "text": {"field": "num"}, "color": {"field": "s", "type": "nominal", "legend": null}}},
        {"data": {"name": "tl2"}, "transform": [{"filter": "datum.pos == 'down' && datum.den"}],
         "mark": {"type": "tick", "orient": "horizontal", "size": 9, "thickness": 1},
         "encoding": {"x": {"field": "v", "type": "quantitative"}, "y": {"datum": 47}, "color": {"field": "s", "type": "nominal", "legend": null}}},
        {"data": {"name": "tl2"}, "transform": [{"filter": "datum.pos == 'down' && datum.den"}],
         "mark": {"type": "text", "baseline": "middle", "font": "Liberation Serif", "fontSize": 11},
         "encoding": {"x": {"field": "v", "type": "quantitative"}, "y": {"datum": 53}, "text": {"field": "den"}, "color": {"field": "s", "type": "nominal", "legend": null}}},
        {"data": {"name": "tl2"}, "transform": [{"filter": "datum.pos == 'up' && datum.lab"}],
         "mark": {"type": "text", "baseline": "middle", "font": "Liberation Serif", "fontSize": 17},
         "encoding": {"x": {"field": "v", "type": "quantitative"}, "y": {"datum": 23}, "text": {"field": "lab"}, "color": {"field": "s", "type": "nominal", "legend": null}}},
        {"data": {"name": "tl2"}, "transform": [{"filter": "datum.pos == 'down' && datum.lab"}],
         "mark": {"type": "text", "baseline": "middle", "font": "Liberation Serif", "fontSize": 18},
         "encoding": {"x": {"field": "v", "type": "quantitative"}, "y": {"datum": 46}, "text": {"field": "lab"}, "color": {"field": "s", "type": "nominal", "legend": null}}}
      ]
    }
  ]
}
